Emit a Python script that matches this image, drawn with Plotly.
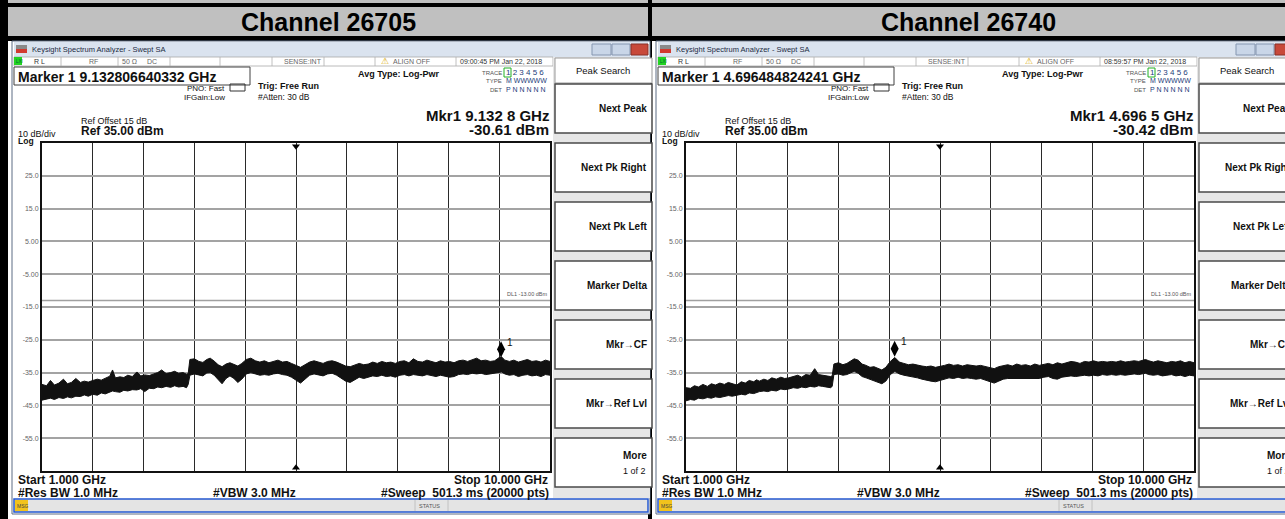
import plotly.graph_objects as go

W, H = 1285, 519
FONT = "Liberation Sans, Arial, sans-serif"

# --- data ---
freq_ghz = [
    1.00, 1.08, 1.15, 1.22, 1.30, 1.38, 1.45, 1.52, 1.60, 1.68,
    1.75, 1.82, 1.90, 1.98, 2.05, 2.12, 2.20, 2.25, 2.30, 2.38,
    2.45, 2.52, 2.60, 2.68, 2.75, 2.82, 2.90, 2.98, 3.05, 3.12,
    3.20, 3.28, 3.35, 3.42, 3.50, 3.56, 3.59, 3.62, 3.70, 3.78,
    3.85, 3.92, 3.98, 4.05, 4.12, 4.19, 4.26, 4.33, 4.40, 4.47,
    4.54, 4.62, 4.70, 4.78, 4.86, 4.94, 5.02, 5.10, 5.18, 5.26,
    5.34, 5.42, 5.50, 5.58, 5.66, 5.74, 5.82, 5.90, 5.98, 6.06,
    6.14, 6.22, 6.30, 6.38, 6.46, 6.54, 6.62, 6.70, 6.78, 6.86,
    6.94, 7.02, 7.10, 7.18, 7.26, 7.34, 7.42, 7.50, 7.58, 7.66,
    7.74, 7.82, 7.90, 7.98, 8.06, 8.14, 8.22, 8.30, 8.38, 8.46,
    8.54, 8.62, 8.70, 8.78, 8.86, 8.94, 9.02, 9.10, 9.14, 9.20,
    9.28, 9.36, 9.44, 9.52, 9.60, 9.68, 9.76, 9.84, 9.92, 10.00,
]

# upper / lower edge of the noise band, dBm
top_26705 = [
    -38.6, -39.0, -37.4, -38.8, -38.2, -37.0, -38.4, -38.0, -36.8, -38.0,
    -37.6, -37.9, -37.4, -37.0, -37.3, -36.8, -36.1, -34.2, -36.6, -36.3,
    -36.5, -35.8, -36.2, -34.8, -36.0, -35.7, -35.9, -35.4, -35.0, -34.2,
    -35.3, -35.0, -34.6, -35.2, -35.0, -35.5, -35.3, -31.0, -30.8, -31.6,
    -31.9, -31.0, -30.6, -31.5, -32.6, -33.2, -32.4, -32.0, -32.6, -33.0,
    -32.2, -31.0, -30.6, -31.4, -31.8, -31.4, -32.0, -31.6, -31.2, -31.8,
    -31.6, -32.2, -32.8, -33.4, -32.6, -31.8, -31.4, -31.8, -32.2, -31.6,
    -31.4, -31.8, -32.4, -33.0, -33.2, -32.6, -32.2, -32.6, -32.4, -31.8,
    -32.2, -31.6, -32.0, -31.8, -32.2, -31.6, -31.4, -32.0, -30.8, -31.6,
    -31.8, -31.2, -31.6, -32.0, -31.4, -31.8, -31.6, -32.0, -31.4, -31.2,
    -31.6, -31.0, -30.6, -31.4, -31.2, -31.6, -31.4, -30.4, -30.2, -31.2,
    -31.6, -31.2, -31.8, -31.4, -31.0, -31.6, -31.4, -31.8, -31.2, -31.6,
]
bot_26705 = [
    -43.4, -43.0, -42.8, -43.2, -42.6, -42.9, -42.4, -42.7, -42.2, -42.3,
    -41.8, -42.2, -41.6, -41.9, -41.2, -41.5, -41.0, -40.6, -40.8, -41.0,
    -40.4, -40.6, -40.2, -40.3, -39.9, -40.8, -39.8, -39.9, -39.4, -39.6,
    -39.2, -39.5, -39.0, -39.4, -39.2, -39.6, -38.6, -35.8, -35.4, -35.6,
    -36.0, -35.1, -35.0, -35.8, -37.2, -38.4, -36.8, -36.0, -36.8, -38.0,
    -37.0, -35.4, -35.0, -35.4, -35.8, -35.6, -35.8, -35.4, -35.2, -35.6,
    -35.8, -36.4, -37.4, -38.2, -37.0, -35.8, -35.4, -35.6, -36.0, -35.4,
    -35.2, -35.8, -36.8, -37.6, -38.0, -37.2, -36.4, -36.8, -36.4, -36.0,
    -36.2, -35.8, -36.2, -36.0, -36.4, -35.8, -35.6, -36.0, -35.6, -35.8,
    -36.0, -35.6, -35.8, -36.2, -35.8, -36.0, -36.4, -36.2, -35.6, -35.4,
    -35.6, -35.2, -35.4, -35.2, -35.6, -35.4, -35.2, -35.0, -34.8, -35.4,
    -35.8, -35.6, -36.2, -35.8, -35.6, -36.0, -35.8, -36.2, -35.6, -35.8,
]
top_26740 = [
    -39.6, -39.8, -39.0, -39.4, -38.6, -39.2, -38.4, -38.8, -38.2, -38.6,
    -38.0, -38.4, -38.8, -37.8, -38.2, -37.4, -37.8, -37.2, -37.6, -37.0,
    -37.4, -36.6, -37.0, -36.4, -36.8, -36.6, -36.2, -35.8, -36.4, -35.6,
    -35.8, -33.8, -35.6, -35.8, -36.0, -36.2, -36.0, -32.4, -32.0, -32.6,
    -32.2, -31.4, -30.8, -31.2, -32.4, -32.8, -33.4, -33.2, -33.6, -34.2,
    -33.4, -31.6, -30.4, -31.8, -32.2, -32.6, -32.4, -32.8, -33.0, -33.2,
    -33.0, -33.4, -33.2, -32.8, -32.4, -32.8, -32.6, -33.0, -32.6, -32.8,
    -33.0, -32.8, -33.2, -33.6, -33.8, -33.2, -32.8, -32.6, -33.0, -32.4,
    -32.8, -32.6, -33.0, -32.4, -32.8, -32.6, -32.2, -32.6, -32.0, -32.4,
    -32.0, -31.6, -31.8, -32.2, -31.6, -31.8, -31.4, -31.8, -31.6, -31.8,
    -31.6, -31.8, -31.4, -31.8, -31.6, -31.4, -31.6, -31.2, -31.0, -31.4,
    -31.8, -31.4, -31.8, -32.0, -31.6, -31.8, -31.4, -32.0, -31.6, -32.0,
]
bot_26740 = [
    -43.6, -43.2, -43.4, -42.8, -43.0, -42.6, -42.8, -42.4, -42.6, -42.2,
    -42.0, -42.2, -41.8, -41.6, -41.8, -41.2, -41.4, -41.0, -40.8, -40.6,
    -40.8, -40.4, -40.6, -40.0, -40.2, -40.0, -39.6, -39.8, -39.4, -39.6,
    -39.2, -39.4, -39.0, -39.2, -39.4, -39.6, -39.2, -35.6, -35.4, -35.8,
    -35.6, -35.0, -34.6, -35.2, -36.2, -36.6, -37.0, -37.4, -37.8, -38.4,
    -37.6, -35.6, -34.6, -35.4, -35.8, -36.0, -36.2, -36.6, -37.0, -37.4,
    -37.6, -37.8, -37.4, -37.0, -36.6, -36.8, -36.4, -36.8, -36.6, -36.8,
    -37.0, -36.8, -37.2, -37.8, -38.2, -37.6, -37.0, -36.8, -36.8, -36.6,
    -36.8, -36.6, -36.8, -36.6, -36.8, -36.4, -36.2, -36.8, -37.0, -36.4,
    -36.2, -36.0, -36.2, -36.0, -35.8, -36.0, -35.8, -36.0, -35.6, -35.8,
    -35.6, -35.8, -35.6, -35.8, -35.6, -35.4, -35.6, -35.4, -35.2, -35.6,
    -35.8, -35.6, -36.0, -35.8, -35.6, -36.0, -35.8, -36.2, -35.8, -36.0,
]

channels = ["Channel 26705", "Channel 26740"]
marker_freq_ghz = [9.132806640332, 4.696484824241]
marker_level_dbm = [-30.61, -30.42]
marker_full = ["9.132806640332", "4.696484824241"]
marker_short = ["9.132 8", "4.696 5"]
timestamps = ["09:00:45 PM Jan 22, 2018", "08:59:57 PM Jan 22, 2018"]

y_tick_vals = [25, 15, 5, -5, -15, -25, -35, -45, -55]
y_tick_text = ["25.0", "15.0", "5.00", "-5.00", "-15.0", "-25.0", "-35.0", "-45.0", "-55.0"]
ref_dbm = 35.0
bottom_dbm = -65.0
start_ghz, stop_ghz = 1.0, 10.0
dl1_dbm = -13.0

softkeys = ["Next Peak", "Next Pk Right", "Next Pk Left", "Marker Delta",
            "Mkr\u2192CF", "Mkr\u2192Ref Lvl"]

# panel x offsets in pixels (second screenshot is a shifted copy of the first)
OFFSETS = [0, 644]
PLOT_X0, PLOT_X1, PLOT_Y0, PLOT_Y1 = 42, 550, 143, 471

shapes = []
annotations = []


def px(x):
    return x / W


def py(y):
    return 1 - y / H


def rect(x0, y0, x1, y1, fill=None, line=None, lw=0):
    shapes.append(dict(
        type="rect", xref="paper", yref="paper",
        x0=px(x0), x1=px(x1), y0=py(y1), y1=py(y0),
        fillcolor=fill, line=dict(color=line or "rgba(0,0,0,0)", width=lw),
        layer="below",
    ))


def vline(x, y0, y1, color, lw=1):
    shapes.append(dict(type="line", xref="paper", yref="paper",
                       x0=px(x), x1=px(x), y0=py(y0), y1=py(y1),
                       line=dict(color=color, width=lw), layer="below"))


def text(x, y, s, size=9, bold=False, anchor="left", color="#111"):
    if bold:
        s = f"<b>{s}</b>"
    annotations.append(dict(
        xref="paper", yref="paper", x=px(x), y=py(y), text=s,
        showarrow=False, xanchor=anchor, yanchor="middle",
        borderpad=0, font=dict(size=size, color=color, family=FONT),
    ))


def add_panel_chrome(i):
    o = OFFSETS[i]

    # --- window frame and title bar ---
    rect(12 + o, 41, 650 + o, 514, fill="white", line="#5c6c84", lw=1)
    rect(14 + o, 42, 648 + o, 57, fill="#dae3ef")
    rect(16 + o, 45, 27 + o, 49, fill="#8a8a8a")
    rect(16 + o, 49, 27 + o, 53, fill="#d23a30")
    text(31 + o, 49.5, "Keysight Spectrum Analyzer - Swept SA", size=7.5, color="#1d2b44")
    rect(592 + o, 44, 611 + o, 55, fill="#c9d6e8", line="#8596b0", lw=1)
    rect(612 + o, 44, 630 + o, 55, fill="#c9d6e8", line="#8596b0", lw=1)
    rect(631 + o, 44, 648 + o, 55, fill="#c8493a", line="#8a3026", lw=1)

    # --- status row ---
    rect(14 + o, 57, 553 + o, 66, fill="white", line="#a8a8a8", lw=0.8)
    for sx in [61, 118, 170, 220, 272, 324, 375, 456]:
        vline(sx + o, 57, 66, "#b0b0b0", 0.8)
    rect(14 + o, 57, 22 + o, 65, fill="#22d322")
    text(14.5 + o, 61.5, "LXI", size=4.5, color="#063")
    text(33 + o, 61.5, "R L", size=7, color="#333")
    text(88 + o, 61.5, "RF", size=7, color="#666")
    text(121 + o, 61.5, "50 \u03a9", size=7, color="#666")
    text(146 + o, 61.5, "DC", size=7, color="#666")
    text(323 + o, 61.5, "SENSE:INT", size=7, color="#666", anchor="right")
    text(380 + o, 61, "\u26a0", size=9, color="#d8a800")
    text(392 + o, 61.5, "ALIGN OFF", size=7, color="#666")
    text(459 + o, 61.5, timestamps[i], size=7, color="#333")

    # --- marker readout line ---
    rect(14 + o, 67, 250 + o, 85, fill="white", line="#404040", lw=1)
    text(17 + o, 76.5, f"Marker 1 {marker_full[i]} GHz", size=14, bold=True, color="#111")
    text(226 + o, 88, "PNO: Fast", size=8, anchor="right")
    text(226 + o, 97.5, "IFGain:Low", size=8, anchor="right")
    rect(230 + o, 84, 245 + o, 91, line="#333", lw=1)
    text(257 + o, 86.5, "Trig: Free Run", size=9, bold=True)
    text(257 + o, 96.5, "#Atten: 30 dB", size=8.5)
    text(357 + o, 74.5, "Avg Type: Log-Pwr", size=9, bold=True)

    # trace table
    text(503 + o, 73, "TRACE", size=6, color="#555", anchor="right")
    text(503 + o, 81, "TYPE", size=6, color="#555", anchor="right")
    text(503 + o, 89.5, "DET", size=6, color="#555", anchor="right")
    rect(504 + o, 68, 511 + o, 77, line="#22b022", lw=1)
    text(505 + o, 73, "1 2 3 4 5 6", size=8, color="#1e3d7a")
    text(505 + o, 81, "M WWWWW", size=7, color="#1e3d7a")
    text(505 + o, 89.5, "P N N N N N", size=7, color="#1e3d7a")

    text(550 + o, 115, f"Mkr1 {marker_short[i]} GHz", size=15, bold=True, anchor="right")
    text(550 + o, 129.5, f"{marker_level_dbm[i]:.2f} dBm", size=15, bold=True, anchor="right")
    text(80 + o, 120.5, "Ref Offset 15 dB", size=9)
    text(80 + o, 131, f"Ref {ref_dbm:.2f} dBm", size=12, bold=True)
    text(17 + o, 133.5, "10 dB/div", size=9)
    text(17 + o, 141, "Log", size=8.5, bold=True)

    # --- bottom annotation lines ---
    text(17 + o, 480, f"Start {start_ghz:.3f} GHz", size=12, bold=True)
    text(549 + o, 480, f"Stop {stop_ghz:.3f} GHz", size=12, bold=True, anchor="right")
    text(17 + o, 493, "#Res BW 1.0 MHz", size=12, bold=True)
    text(212 + o, 493, "#VBW 3.0 MHz", size=12, bold=True)
    text(550 + o, 493, "#Sweep&nbsp;&nbsp;501.3 ms (20000 pts)", size=12, bold=True, anchor="right")
    text(PLOT_X1 - 2 + o, 294, f"DL1 {dl1_dbm:.2f} dBm", size=5.5, color="#555", anchor="right")

    # --- status bar ---
    rect(14 + o, 499, 648 + o, 512, fill="#e4e4e4", line="#2558d0", lw=1.5)
    rect(15 + o, 500, 28 + o, 511, fill="#f2c31c")
    text(16 + o, 505.5, "MSG", size=5, color="#444")
    vline(415 + o, 500, 511, "#b8b8b8", 0.8)
    vline(448 + o, 500, 511, "#b8b8b8", 0.8)
    text(418 + o, 505.5, "STATUS", size=5.5, color="#555")

    # --- softkey column ---
    rect(553 + o, 57, 650 + o, 498, fill="#e6e6e6")
    rect(555 + o, 58, 652 + o, 83, fill="white", line="#9a9a9a", lw=1)
    text(603 + o, 70.5, "Peak Search", size=9.5, anchor="center")
    key_tops = [84, 143, 202, 261, 320, 379, 438]
    for k, top in enumerate(key_tops):
        rect(555 + o, top, 652 + o, top + 49, fill="white", line="#4a4a4a", lw=1.5)
        if k < len(softkeys):
            text(648 + o, top + 24.5, softkeys[k], size=10, bold=True, anchor="right")
    text(648 + o, 455, "More", size=10, bold=True, anchor="right")
    text(647 + o, 471, "1 of 2", size=9, anchor="right")


# --- table cell borders and headers ---
rect(0, 0, W, 41, fill="#c0c0c0")
rect(0, 3, W, 7, fill="black")
rect(0, 36, W, 41, fill="black")
rect(0, 0, 8, H, fill="black")
rect(648, 0, 652, H, fill="black")
text(328, 22, f"<b>{channels[0]}</b>", size=25, anchor="center", color="#000")
text(968, 22, f"<b>{channels[1]}</b>", size=25, anchor="center", color="#000")

for i in range(2):
    add_panel_chrome(i)

fig = go.Figure()

series = [(top_26705, bot_26705), (top_26740, bot_26740)]
for i, (top, bot) in enumerate(series):
    xa = "x" if i == 0 else "x2"
    ya = "y" if i == 0 else "y2"
    fig.add_trace(go.Scatter(
        x=freq_ghz, y=top, mode="lines", line=dict(color="#111", width=1),
        xaxis=xa, yaxis=ya, hoverinfo="skip", showlegend=False,
    ))
    fig.add_trace(go.Scatter(
        x=freq_ghz, y=bot, mode="lines", line=dict(color="#111", width=1),
        fill="tonexty", fillcolor="#111",
        xaxis=xa, yaxis=ya, hoverinfo="skip", showlegend=False,
    ))

    # center frequency triangles
    cf = (start_ghz + stop_ghz) / 2
    fig.add_trace(go.Scatter(
        x=[cf, cf], y=[ref_dbm - 1.0, bottom_dbm + 1.0], mode="markers",
        marker=dict(symbol=["triangle-down", "triangle-up"], size=7, color="black"),
        xaxis=xa, yaxis=ya, hoverinfo="skip", showlegend=False, cliponaxis=False,
    ))

    # marker 1 diamond + label
    fig.add_trace(go.Scatter(
        x=[marker_freq_ghz[i]], y=[marker_level_dbm[i] + 2.7], mode="markers",
        marker=dict(symbol="diamond-tall", size=11.5, color="black"),
        xaxis=xa, yaxis=ya, hoverinfo="skip", showlegend=False,
    ))
    annotations.append(dict(
        xref=xa, yref=ya, x=marker_freq_ghz[i], y=marker_level_dbm[i],
        text="1", showarrow=False, xanchor="left", yanchor="middle",
        xshift=4, yshift=16, font=dict(size=10, color="#111", family=FONT),
    ))

    # display line DL1
    shapes.append(dict(
        type="line", xref=xa, yref=ya, x0=start_ghz, x1=stop_ghz,
        y0=dl1_dbm, y1=dl1_dbm, line=dict(color="#a0a0a0", width=1.5), layer="below",
    ))

# --- axes ---
axis_x = dict(
    range=[start_ghz, stop_ghz], tick0=start_ghz, dtick=(stop_ghz - start_ghz) / 10,
    showticklabels=False, ticks="", showgrid=True, gridcolor="#2a2a2a", gridwidth=1,
    zeroline=False, showline=True, mirror=True, linecolor="#111", linewidth=2,
    fixedrange=True,
)
axis_y = dict(
    range=[bottom_dbm, ref_dbm], tickmode="array", tickvals=y_tick_vals, ticktext=y_tick_text,
    ticks="", showgrid=True, gridcolor="#a3a3a3", gridwidth=1.8,
    tickfont=dict(size=7, color="#666", family=FONT),
    zeroline=False, showline=True, mirror=True, linecolor="#111", linewidth=2,
    fixedrange=True,
)
ydom = [py(PLOT_Y1), py(PLOT_Y0)]

fig.update_layout(
    width=W, height=H,
    margin=dict(l=0, r=0, t=0, b=0),
    paper_bgcolor="white", plot_bgcolor="white",
    showlegend=False, hovermode=False,
    xaxis=dict(axis_x, domain=[px(PLOT_X0), px(PLOT_X1)], anchor="y"),
    yaxis=dict(axis_y, domain=ydom, anchor="x"),
    xaxis2=dict(axis_x, domain=[px(PLOT_X0 + OFFSETS[1]), px(PLOT_X1 + OFFSETS[1])], anchor="y2"),
    yaxis2=dict(axis_y, domain=ydom, anchor="x2"),
    shapes=shapes,
    annotations=annotations,
)

# page body has a default 8px margin; drop it so the figure sits at the window origin
fig.write_html(
    "out.html",
    config={"displayModeBar": False},
    post_script="document.body.style.margin='0';document.body.style.overflow='hidden';",
)
